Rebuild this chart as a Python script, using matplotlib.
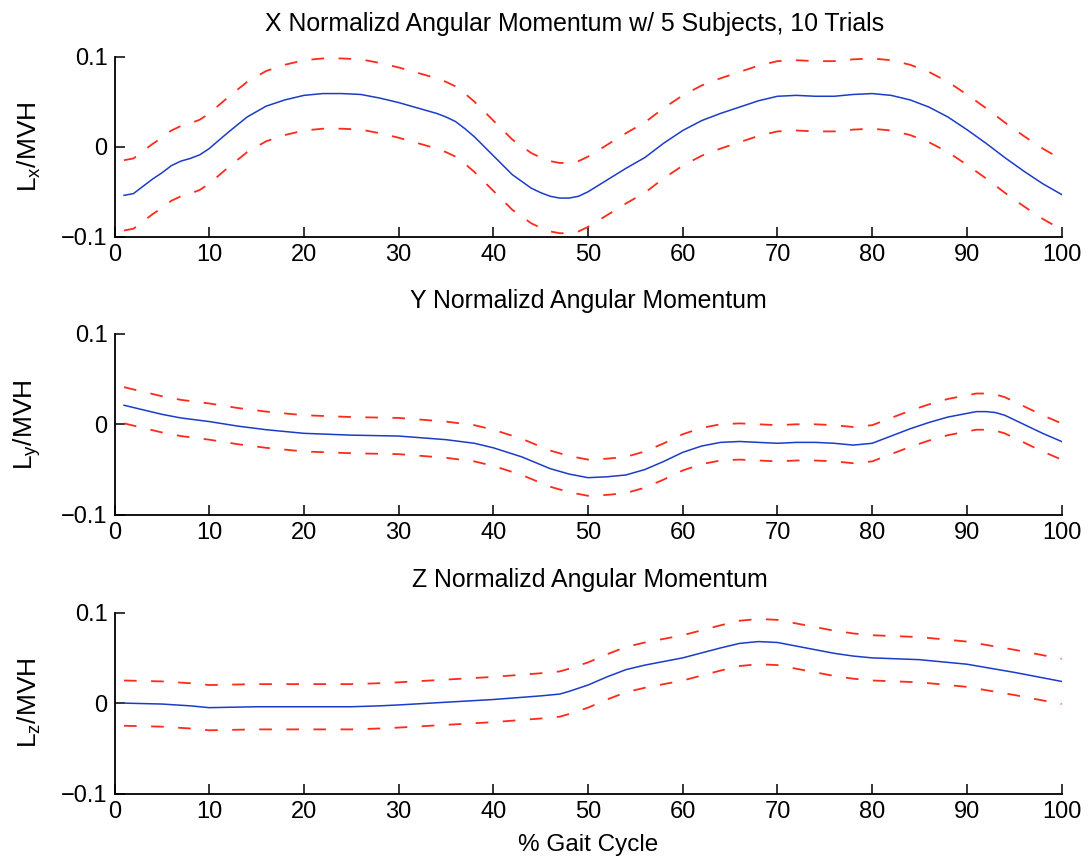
import numpy as np
import matplotlib
matplotlib.use("Agg")
import matplotlib.pyplot as plt

plt.rcParams['font.family'] = ['Liberation Sans', 'DejaVu Sans']

# % gait cycle samples
x_x = [1, 2, 3, 4, 5, 6, 7, 8, 9, 10, 11, 12, 14, 16, 18, 20, 22, 24, 26, 28, 30,
       32, 34, 35, 36, 37, 38, 40, 42, 44, 45, 46, 47, 48, 49, 50, 52, 54, 56, 58, 60,
       62, 64, 66, 68, 70, 72, 74, 76, 78, 80, 82, 84, 86, 88, 90, 92, 94, 96,
       98, 100]
mean_x = [-0.054, -0.052, -0.044, -0.036, -0.029, -0.021, -0.016, -0.013, -0.009, -0.002,
          0.007, 0.016, 0.033, 0.045, 0.052, 0.057, 0.059, 0.059, 0.058, 0.054, 0.049,
          0.043, 0.037, 0.033, 0.028, 0.020, 0.011, -0.010, -0.031, -0.046, -0.051, -0.055,
          -0.057, -0.057, -0.055, -0.050, -0.037, -0.024, -0.012, 0.004, 0.018,
          0.029, 0.037, 0.044, 0.051, 0.056, 0.057, 0.056, 0.056, 0.058, 0.059,
          0.057, 0.052, 0.044, 0.033, 0.019, 0.004, -0.012, -0.027,
          -0.041, -0.053]
sd_x = 0.039

x_y = [1, 3, 5, 7, 10, 13, 16, 20, 25, 30, 35, 38, 40, 43, 46, 48, 50, 52, 54,
       56, 58, 60, 62, 64, 66, 68, 70, 72, 74, 76, 78, 80, 82, 84, 86, 88, 90,
       91, 92, 93, 94, 96, 98, 100]
mean_y = [0.021, 0.016, 0.011, 0.007, 0.003, -0.002, -0.006, -0.010, -0.012, -0.013,
          -0.017, -0.021, -0.026, -0.036, -0.049, -0.055, -0.059, -0.058, -0.056,
          -0.050, -0.041, -0.031, -0.024, -0.020, -0.019, -0.020, -0.021, -0.020,
          -0.020, -0.021, -0.023, -0.021, -0.013, -0.005, 0.002, 0.008, 0.012,
          0.014, 0.014, 0.013, 0.010, 0.000, -0.010, -0.019]
sd_y = 0.020

x_z = [1, 5, 8, 10, 15, 20, 25, 28, 30, 35, 40, 45, 47, 48, 50, 52, 54, 56, 60, 64,
       66, 68, 70, 72, 74, 76, 78, 80, 85, 90, 95, 100]
mean_z = [0.000, -0.001, -0.003, -0.005, -0.004, -0.004, -0.004, -0.003, -0.002, 0.001,
          0.004, 0.008, 0.010, 0.013, 0.020, 0.029, 0.037, 0.042, 0.050, 0.061,
          0.066, 0.068, 0.067, 0.063, 0.059, 0.055, 0.052, 0.050, 0.048, 0.043,
          0.034, 0.024]
sd_z = 0.025

titles = ['X Normalizd Angular Momentum w/ 5 Subjects, 10 Trials',
          'Y Normalizd Angular Momentum',
          'Z Normalizd Angular Momentum']
ylabels = [r'L$_\mathregular{x}$/MVH', r'L$_\mathregular{y}$/MVH', r'L$_\mathregular{z}$/MVH']
title_x = [0.486, 0.5, 0.502]

fig = plt.figure(figsize=(10.91, 8.58), dpi=100)
boxes = [[0.105, 0.724, 0.868, 0.210],
         [0.105, 0.400, 0.868, 0.211],
         [0.105, 0.075, 0.868, 0.211]]

series = [(x_x, mean_x, sd_x), (x_y, mean_y, sd_y), (x_z, mean_z, sd_z)]

for i, (xs, m, s) in enumerate(series):
    ax = fig.add_axes(boxes[i])
    xs = np.array(xs)
    m = np.array(m)
    ax.plot(xs, m, color='#1a3cc8', lw=1.1)
    ax.plot(xs, m + s, color='#ff2a1a', lw=1.3, dashes=(7, 8))
    ax.plot(xs, m - s, color='#ff2a1a', lw=1.3, dashes=(7, 8))
    ax.set_xlim(0, 100)
    ax.set_ylim(-0.1, 0.1)
    ax.set_xticks(range(0, 101, 10))
    ax.set_yticks([-0.1, 0, 0.1])
    ax.set_yticklabels(['\u22120.1', '0', '0.1'])
    ax.spines['top'].set_visible(False)
    ax.spines['right'].set_visible(False)
    for sp in ('left', 'bottom'):
        ax.spines[sp].set_linewidth(1.3)
    ax.tick_params(direction='in', length=7, width=1.1, labelsize=17, pad=5)
    ax.set_ylabel(ylabels[i], fontsize=19)
    ax.yaxis.set_label_coords(-0.076, 0.5)
    ax.text(title_x[i], 1.115, titles[i], transform=ax.transAxes,
            ha='center', va='bottom', fontsize=17.9)

ax.set_xlabel('% Gait Cycle', fontsize=17.5, labelpad=8)

fig.savefig('out.png', dpi=100)
